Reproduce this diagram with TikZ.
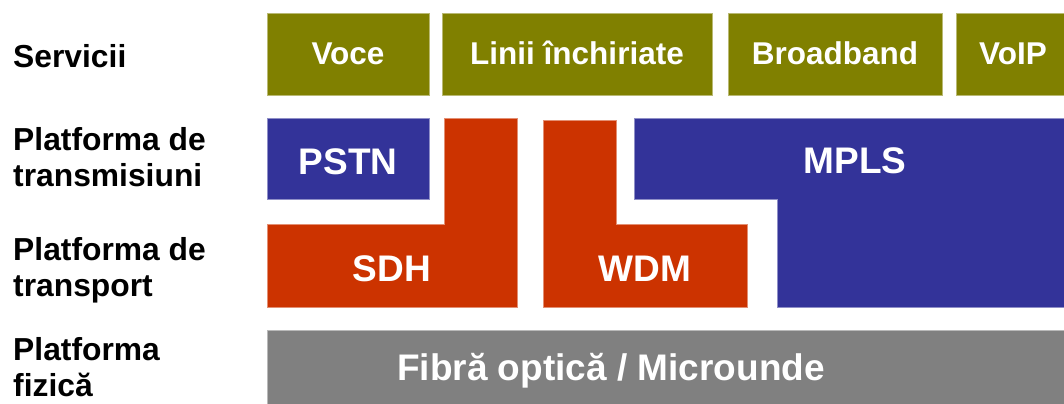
\documentclass[tikz,border=0pt]{standalone}
\usepackage{fontspec}
\setmainfont{Liberation Sans}

\definecolor{servolive}{HTML}{808000}
\definecolor{netblue}{HTML}{333399}
\definecolor{netred}{HTML}{CC3300}
\definecolor{fizgray}{HTML}{808080}

\begin{document}
\begin{tikzpicture}[
		rowlabel/.style={align=left, anchor=base west, inner sep=0pt,
			font=\bfseries\fontsize{31.8bp}{36bp}\selectfont},
		servbox/.style={fill=servolive, draw=servolive!55!white, line width=0.6bp,
			minimum height=82bp, text=white, inner sep=0pt, outer sep=0pt,
			text height=20bp, text depth=0bp,
			font=\bfseries\fontsize{31.5bp}{37bp}\selectfont},
		platlabel/.style={text=white, inner sep=0pt, anchor=base,
			font=\bfseries\fontsize{37bp}{42bp}\selectfont}]

		\useasboundingbox (0bp,0bp) rectangle (1064bp,-404bp);
		\clip (0bp,0bp) rectangle (1064bp,-404bp);

		% left column (base = last line)
		\node[rowlabel] (lserv) at (13bp,-67bp) {Servicii};
		\node[rowlabel] (ltrans) at (13bp,-186bp) {Platforma de\\transmisiuni};
		\node[rowlabel] (ltransp) at (13bp,-296bp) {Platforma de\\transport};
		\node[rowlabel] (lfiz) at (13bp,-396bp) {Platforma\\fizică};

		% services
		\node[servbox, minimum width=162bp] (voce) at (348bp,-54bp) {Voce};
		\node[servbox, minimum width=270bp] (linii) at (577bp,-54bp) {Linii închiriate};
		\node[servbox, minimum width=214bp] (broad) at (835bp,-54bp) {Broadband};
		\node[servbox, minimum width=114bp] (voip) at (1013bp,-54bp) {VoIP};

		% transmisiuni / transport
		\node[servbox, fill=netblue, draw=netblue!55!white, minimum width=162bp,
			minimum height=81bp, text height=31bp,
			font=\bfseries\fontsize{37bp}{42bp}\selectfont]
			(pstn) at (348bp,-158.5bp) {PSTN};
		\draw[fill=netblue, draw=netblue!55!white, line width=0.6bp]
			(634bp,-118bp) -- (1070bp,-118bp) -- (1070bp,-307bp) -- (777bp,-307bp)
			-- (777bp,-199bp) -- (634bp,-199bp) -- cycle;
		\draw[fill=netred, draw=netred!55!white, line width=0.6bp]
			(444bp,-118bp) -- (517bp,-118bp) -- (517bp,-307bp) -- (267bp,-307bp)
			-- (267bp,-224bp) -- (444bp,-224bp) -- cycle;
		\draw[fill=netred, draw=netred!55!white, line width=0.6bp]
			(543bp,-120bp) -- (616bp,-120bp) -- (616bp,-224bp) -- (747bp,-224bp)
			-- (747bp,-307bp) -- (543bp,-307bp) -- cycle;
		\node[platlabel] (mpls) at (855bp,-173bp) {MPLS};
		\node[platlabel] (sdh) at (392bp,-281bp) {SDH};
		\node[platlabel] (wdm) at (645bp,-281bp) {WDM};

		% fizic
		\draw[fill=fizgray, draw=fizgray!55!white, line width=0.6bp]
			(267bp,-330bp) rectangle (1070bp,-420bp);
		\node[platlabel] (fibra) at (611bp,-380bp) {Fibră optică / Microunde};

	\end{tikzpicture}
\end{document}
